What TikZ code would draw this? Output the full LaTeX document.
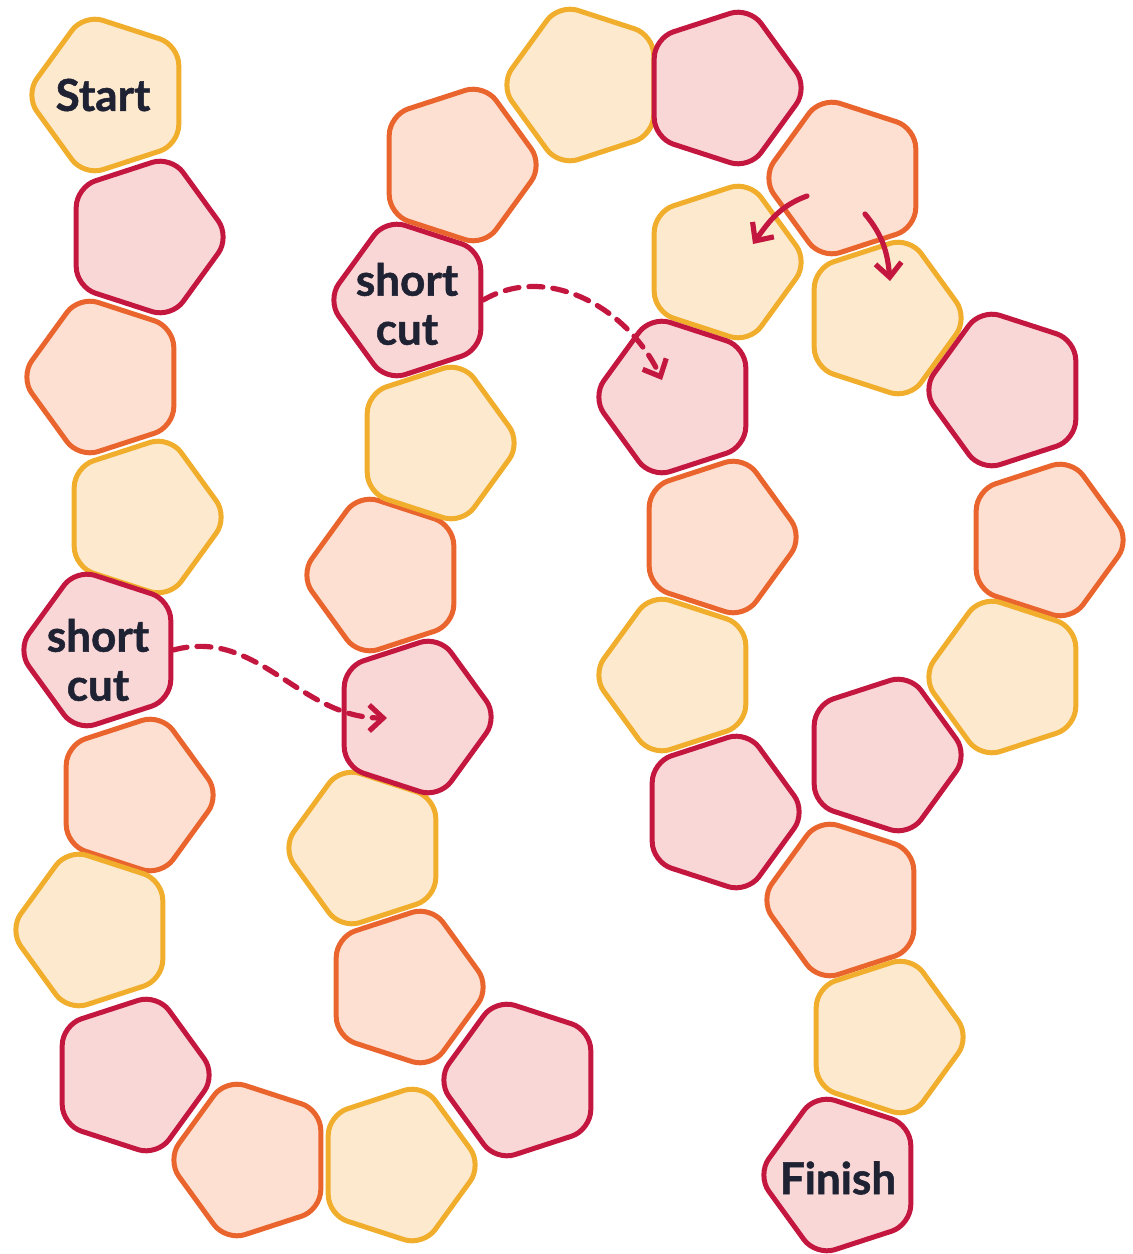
\documentclass[tikz,border=0pt]{standalone}
\usepackage{fontspec}
\setmainfont{Lato}[BoldFeatures={FakeBold=1.2}]
\usetikzlibrary{shapes.geometric,arrows.meta}

\definecolor{yelLine}{HTML}{F0AE2C}
\definecolor{yelFill}{HTML}{FDE9CE}
\definecolor{oraLine}{HTML}{EA652D}
\definecolor{oraFill}{HTML}{FDE0D2}
\definecolor{redLine}{HTML}{C4173F}
\definecolor{redFill}{HTML}{F9D7D7}
\definecolor{ink}{HTML}{1F2233}

\begin{document}
\begin{tikzpicture}[x=0.5pt,y=-0.5pt]
 \tikzstyle{tile} = [regular polygon,regular polygon sides=5,minimum size=85pt,inner sep=0pt,line width=2.5pt,rounded corners=10pt];
 \tikzstyle{ptL} = [tile,shape border rotate=18];
 \tikzstyle{ptR} = [tile,shape border rotate=-18];
 \tikzstyle{tileY} = [draw=yelLine,fill=yelFill];
 \tikzstyle{tileO} = [draw=oraLine,fill=oraFill];
 \tikzstyle{tileR} = [draw=redLine,fill=redFill];
 \tikzstyle{word} = [font=\fontsize{22}{24.5}\selectfont\bfseries,text=ink,align=center,inner sep=0pt];
 \tikzstyle{hop} = [->,>={Straight Barb[length=7pt,width=13pt,line width=2.6pt]},line width=2.6pt,draw=redLine,line cap=round];
 \tikzstyle{skip} = [hop,dash pattern=on 7pt off 5pt];

 \useasboundingbox (0,0) rectangle (1133,1254);

 % left column, top to bottom
 \node[ptL,tileY,name=t1,label={[word,xshift=-3.5pt]center:Start}] at (110,95) {};
 \node[ptR,tileR,name=t2] at (145,237) {};
 \node[ptL,tileO,name=t3] at (105,377) {};
 \node[ptR,tileY,name=t4] at (143,517) {};
 \node[ptL,tileR,name=t5,label={[word,xshift=-2pt,yshift=-5pt]center:short\\cut}] at (102,650) {};
 \node[ptR,tileO,name=t6] at (135,795) {};
 \node[ptL,tileY,name=t7] at (94,930) {};
 \node[ptR,tileR,name=t8] at (131,1075) {};
 \node[ptL,tileO,name=t9] at (252,1160) {};
 \node[ptR,tileY,name=t10] at (397,1165) {};
 \node[ptL,tileR,name=t11] at (522,1080) {};

 % second column, bottom to top
 \node[ptR,tileO,name=t12] at (405,987) {};
 \node[ptL,tileY,name=t13] at (367,848) {};
 \node[ptR,tileR,name=t14] at (413,717) {};
 \node[ptL,tileO,name=t15] at (385,575) {};
 \node[ptR,tileY,name=t16] at (436,443) {};
 \node[ptL,tileR,name=t17,label={[word,xshift=-2.5pt,yshift=-2pt]center:short\\cut}] at (412,300) {};
 \node[ptR,tileO,name=t18] at (458,165) {};

 % across the top
 \node[ptL,tileY,name=t19] at (585,85) {};
 \node[ptR,tileR,name=t20] at (723,88) {};
 \node[ptL,tileO,name=t21] at (847,178) {};

 % outer way
 \node[ptR,tileY,name=t23] at (883,318) {};
 \node[ptL,tileR,name=t24] at (1007,390) {};
 \node[ptR,tileO,name=t25] at (1045,540) {};
 \node[ptL,tileY,name=t26] at (1007,677) {};
 \node[ptR,tileR,name=t27] at (883,755) {};

 % inner way
 \node[ptR,tileY,name=t22] at (723,262) {};
 \node[ptL,tileR,name=t31] at (677,397) {};
 \node[ptR,tileO,name=t32] at (718,537) {};
 \node[ptL,tileY,name=t33] at (677,675) {};
 \node[ptR,tileR,name=t34] at (721,812) {};

 % last stretch
 \node[ptL,tileO,name=t28] at (845,900) {};
 \node[ptR,tileY,name=t29] at (885,1037) {};
 \node[ptL,tileR,name=t30,label={[word,xshift=-2pt,yshift=-1.5pt]center:Finish}] at (842,1175) {};

 % short cuts
 \coordinate (land14) at (387,718);
 \coordinate (land31) at (662,380);
 \draw[skip] (t5.east) to[out=15,in=180] (land14);
 \draw[skip] (t17.east) to[out=30,in=115] (land31);

 % fork
 \coordinate (forkL) at (807,196);
 \coordinate (forkR) at (865,214);
 \coordinate (wayL) at (753,244);
 \coordinate (wayR) at (890,281);
 \draw[hop] (forkL) to[out=200,in=55] (wayL);
 \draw[hop] (forkR) to[out=-50,in=95] (wayR);
\end{tikzpicture}
\end{document}
